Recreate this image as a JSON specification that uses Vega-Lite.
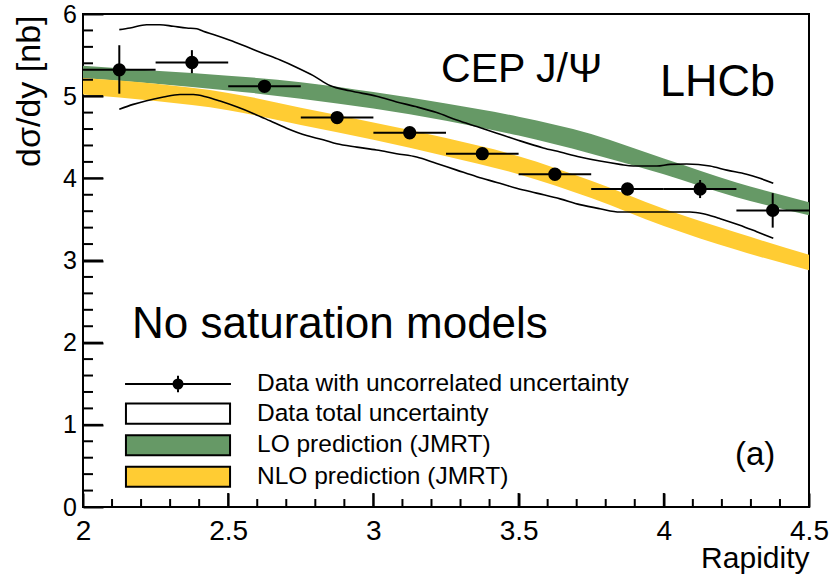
{
  "$schema": "https://vega.github.io/schema/vega-lite/v6.json",
  "width": 726,
  "height": 493,
  "autosize": {"type": "none"},
  "padding": {"left": 83, "top": 14, "right": 24, "bottom": 67},
  "background": "white",
  "config": {"view": {"stroke": "black", "strokeWidth": 2}, "font": "Liberation Sans", "axis": {"zindex": 1}},
  "resolve": {"axis": {"x": "independent", "y": "independent"}},
  "datasets": {
    "pts": [
      {"x": 2.125, "xlo": 2.0, "xhi": 2.25, "y": 5.32, "ylo": 5.03, "yhi": 5.62},
      {"x": 2.375, "xlo": 2.25, "xhi": 2.5, "y": 5.41, "ylo": 5.28, "yhi": 5.56},
      {"x": 2.625, "xlo": 2.5, "xhi": 2.75, "y": 5.12, "ylo": 5.05, "yhi": 5.19},
      {"x": 2.875, "xlo": 2.75, "xhi": 3.0, "y": 4.74, "ylo": 4.68, "yhi": 4.80},
      {"x": 3.125, "xlo": 3.0, "xhi": 3.25, "y": 4.555, "ylo": 4.49, "yhi": 4.62},
      {"x": 3.375, "xlo": 3.25, "xhi": 3.5, "y": 4.30, "ylo": 4.24, "yhi": 4.36},
      {"x": 3.625, "xlo": 3.5, "xhi": 3.75, "y": 4.05, "ylo": 3.99, "yhi": 4.11},
      {"x": 3.875, "xlo": 3.75, "xhi": 4.0, "y": 3.87, "ylo": 3.81, "yhi": 3.93},
      {"x": 4.125, "xlo": 4.0, "xhi": 4.25, "y": 3.87, "ylo": 3.76, "yhi": 3.98},
      {"x": 4.375, "xlo": 4.25, "xhi": 4.5, "y": 3.61, "ylo": 3.40, "yhi": 3.82}
    ],
    "bands": [
      {"x": 2.0, "lo_lo": 5.22, "lo_hi": 5.37, "nlo_lo": 5.02, "nlo_hi": 5.22},
      {"x": 2.25, "lo_lo": 5.15, "lo_hi": 5.31, "nlo_lo": 4.94, "nlo_hi": 5.15},
      {"x": 2.5, "lo_lo": 5.07, "lo_hi": 5.25, "nlo_lo": 4.83, "nlo_hi": 5.04},
      {"x": 2.75, "lo_lo": 4.97, "lo_hi": 5.17, "nlo_lo": 4.65, "nlo_hi": 4.86},
      {"x": 3.0, "lo_lo": 4.85, "lo_hi": 5.05, "nlo_lo": 4.47, "nlo_hi": 4.68},
      {"x": 3.25, "lo_lo": 4.70, "lo_hi": 4.91, "nlo_lo": 4.27, "nlo_hi": 4.49},
      {"x": 3.5, "lo_lo": 4.52, "lo_hi": 4.75, "nlo_lo": 4.05, "nlo_hi": 4.27},
      {"x": 3.75, "lo_lo": 4.30, "lo_hi": 4.54, "nlo_lo": 3.76, "nlo_hi": 3.97},
      {"x": 4.0, "lo_lo": 4.05, "lo_hi": 4.24, "nlo_lo": 3.42, "nlo_hi": 3.63},
      {"x": 4.25, "lo_lo": 3.77, "lo_hi": 3.95, "nlo_lo": 3.13, "nlo_hi": 3.34},
      {"x": 4.5, "lo_lo": 3.55, "lo_hi": 3.71, "nlo_lo": 2.88, "nlo_hi": 3.07}
    ],
    "tot": [
      {"edge": "up", "x": 2.125, "y": 5.81},
      {"edge": "up", "x": 2.162, "y": 5.83},
      {"edge": "up", "x": 2.219, "y": 5.87},
      {"edge": "up", "x": 2.265, "y": 5.87},
      {"edge": "up", "x": 2.311, "y": 5.85},
      {"edge": "up", "x": 2.357, "y": 5.83},
      {"edge": "up", "x": 2.392, "y": 5.82},
      {"edge": "up", "x": 2.414, "y": 5.79},
      {"edge": "up", "x": 2.449, "y": 5.75},
      {"edge": "up", "x": 2.506, "y": 5.68},
      {"edge": "up", "x": 2.564, "y": 5.60},
      {"edge": "up", "x": 2.621, "y": 5.52},
      {"edge": "up", "x": 2.679, "y": 5.44},
      {"edge": "up", "x": 2.736, "y": 5.35},
      {"edge": "up", "x": 2.793, "y": 5.25},
      {"edge": "up", "x": 2.85, "y": 5.13},
      {"edge": "up", "x": 2.919, "y": 5.065},
      {"edge": "up", "x": 3.011, "y": 5.0},
      {"edge": "up", "x": 3.080, "y": 4.93},
      {"edge": "up", "x": 3.149, "y": 4.87},
      {"edge": "up", "x": 3.218, "y": 4.80},
      {"edge": "up", "x": 3.287, "y": 4.71},
      {"edge": "up", "x": 3.356, "y": 4.63},
      {"edge": "up", "x": 3.425, "y": 4.55},
      {"edge": "up", "x": 3.493, "y": 4.47},
      {"edge": "up", "x": 3.585, "y": 4.37},
      {"edge": "up", "x": 3.643, "y": 4.32},
      {"edge": "up", "x": 3.711, "y": 4.26},
      {"edge": "up", "x": 3.780, "y": 4.21},
      {"edge": "up", "x": 3.849, "y": 4.17},
      {"edge": "up", "x": 3.895, "y": 4.15},
      {"edge": "up", "x": 3.976, "y": 4.15},
      {"edge": "up", "x": 4.022, "y": 4.17},
      {"edge": "up", "x": 4.079, "y": 4.175},
      {"edge": "up", "x": 4.159, "y": 4.15},
      {"edge": "up", "x": 4.217, "y": 4.10},
      {"edge": "up", "x": 4.285, "y": 4.05},
      {"edge": "up", "x": 4.331, "y": 4.00},
      {"edge": "up", "x": 4.377, "y": 3.94},
      {"edge": "lo", "x": 2.125, "y": 4.84},
      {"edge": "lo", "x": 2.173, "y": 4.90},
      {"edge": "lo", "x": 2.219, "y": 4.945},
      {"edge": "lo", "x": 2.277, "y": 4.99},
      {"edge": "lo", "x": 2.334, "y": 5.02},
      {"edge": "lo", "x": 2.380, "y": 5.02},
      {"edge": "lo", "x": 2.426, "y": 4.99},
      {"edge": "lo", "x": 2.472, "y": 4.94},
      {"edge": "lo", "x": 2.529, "y": 4.87},
      {"edge": "lo", "x": 2.586, "y": 4.79},
      {"edge": "lo", "x": 2.644, "y": 4.70},
      {"edge": "lo", "x": 2.701, "y": 4.61},
      {"edge": "lo", "x": 2.770, "y": 4.52},
      {"edge": "lo", "x": 2.827, "y": 4.47},
      {"edge": "lo", "x": 2.874, "y": 4.42},
      {"edge": "lo", "x": 2.943, "y": 4.38},
      {"edge": "lo", "x": 3.011, "y": 4.345},
      {"edge": "lo", "x": 3.080, "y": 4.30},
      {"edge": "lo", "x": 3.149, "y": 4.26},
      {"edge": "lo", "x": 3.218, "y": 4.18},
      {"edge": "lo", "x": 3.287, "y": 4.10},
      {"edge": "lo", "x": 3.356, "y": 4.02},
      {"edge": "lo", "x": 3.425, "y": 3.95},
      {"edge": "lo", "x": 3.493, "y": 3.88},
      {"edge": "lo", "x": 3.562, "y": 3.82},
      {"edge": "lo", "x": 3.643, "y": 3.75},
      {"edge": "lo", "x": 3.711, "y": 3.68},
      {"edge": "lo", "x": 3.780, "y": 3.63},
      {"edge": "lo", "x": 3.849, "y": 3.59},
      {"edge": "lo", "x": 3.929, "y": 3.59},
      {"edge": "lo", "x": 4.010, "y": 3.59},
      {"edge": "lo", "x": 4.090, "y": 3.59},
      {"edge": "lo", "x": 4.136, "y": 3.57},
      {"edge": "lo", "x": 4.193, "y": 3.51},
      {"edge": "lo", "x": 4.262, "y": 3.43},
      {"edge": "lo", "x": 4.320, "y": 3.35},
      {"edge": "lo", "x": 4.377, "y": 3.27}
    ],
    "leg": [
      {"key": "Data with uncorrelated uncertainty"},
      {"key": "Data total uncertainty"},
      {"key": "LO prediction (JMRT)"},
      {"key": "NLO prediction (JMRT)"}
    ],
    "xmaj": [{"v": 2.5}, {"v": 3}, {"v": 3.5}, {"v": 4}],
    "xmin": [{"v": 2.1}, {"v": 2.2}, {"v": 2.3}, {"v": 2.4}, {"v": 2.6}, {"v": 2.7}, {"v": 2.8}, {"v": 2.9}, {"v": 3.1}, {"v": 3.2}, {"v": 3.3}, {"v": 3.4}, {"v": 3.6}, {"v": 3.7}, {"v": 3.8}, {"v": 3.9}, {"v": 4.1}, {"v": 4.2}, {"v": 4.3}, {"v": 4.4}],
    "ymaj": [{"v": 1}, {"v": 2}, {"v": 3}, {"v": 4}, {"v": 5}],
    "ymin": [{"v": 0.2}, {"v": 0.4}, {"v": 0.6}, {"v": 0.8}, {"v": 1.2}, {"v": 1.4}, {"v": 1.6}, {"v": 1.8}, {"v": 2.2}, {"v": 2.4}, {"v": 2.6}, {"v": 2.8}, {"v": 3.2}, {"v": 3.4}, {"v": 3.6}, {"v": 3.8}, {"v": 4.2}, {"v": 4.4}, {"v": 4.6}, {"v": 4.8}, {"v": 5.2}, {"v": 5.4}, {"v": 5.6}, {"v": 5.8}]
  },
  "layer": [
    {
      "data": {"name": "bands"},
      "mark": {"type": "area", "interpolate": "monotone", "color": "#669966", "opacity": 1},
      "encoding": {
        "x": {
          "field": "x", "type": "quantitative",
          "scale": {"domain": [2, 4.5], "nice": false, "zero": false},
          "axis": {
            "orient": "bottom", "offset": -14, "ticks": true, "tickSize": 14, "domain": false, "zindex": 1,
            "values": [2, 2.5, 3, 3.5, 4, 4.5], "format": "~g",
            "labelFont": "Liberation Sans", "labelFontSize": 28, "labelColor": "black",
            "labelPadding": 10, "labelFlush": false, "labelOverlap": false, "labelBound": false,
            "tickWidth": 2, "tickColor": "black", "tickOpacity": 1, "grid": false,
            "title": "Rapidity", "titleFont": "Liberation Sans", "titleFontSize": 30, "titleFontWeight": "normal", "titleColor": "black",
            "titleAlign": "right", "titleX": 726, "titleY": 74, "titleBaseline": "alphabetic", "titleAngle": 0
          }
        },
        "y": {
          "field": "lo_lo", "type": "quantitative",
          "scale": {"domain": [0, 6], "nice": false, "zero": false},
          "axis": {
            "orient": "left", "offset": -20, "ticks": true, "tickSize": 20, "domain": false, "zindex": 1,
            "values": [0, 1, 2, 3, 4, 5, 6], "format": "~g",
            "labelFont": "Liberation Sans", "labelFontSize": 25, "labelColor": "black",
            "labelPadding": 6.5, "labelFlush": false, "labelOverlap": false, "labelBound": false,
            "tickWidth": 2, "tickColor": "black", "tickOpacity": 1, "grid": false,
            "title": "dσ/dy [nb]", "titleFont": "Liberation Sans", "titleFontSize": 34, "titleFontWeight": "normal", "titleColor": "black",
            "titleAngle": 270, "titleAlign": "right", "titleBaseline": "middle", "titleX": -74, "titleY": 1
          }
        },
        "y2": {"field": "lo_hi"}
      }
    },
    {
      "data": {"name": "bands"},
      "mark": {"type": "area", "interpolate": "monotone", "color": "#ffcc33", "opacity": 1},
      "encoding": {
        "x": {"field": "x", "type": "quantitative", "axis": null},
        "y": {"field": "nlo_lo", "type": "quantitative", "axis": null},
        "y2": {"field": "nlo_hi"}
      }
    },
    {
      "data": {"name": "xmaj"},
      "mark": {"type": "rule", "color": "black", "strokeWidth": 2},
      "encoding": {
        "x": {"field": "v", "type": "quantitative", "axis": null},
        "y": {"datum": 0, "type": "quantitative", "axis": null},
        "y2": {"datum": 0.17}
      }
    },
    {
      "data": {"name": "xmin"},
      "mark": {"type": "rule", "color": "black", "strokeWidth": 2},
      "encoding": {
        "x": {"field": "v", "type": "quantitative", "axis": null},
        "y": {"datum": 0, "type": "quantitative", "axis": null},
        "y2": {"datum": 0.097}
      }
    },
    {
      "data": {"name": "ymaj"},
      "mark": {"type": "rule", "color": "black", "strokeWidth": 2},
      "encoding": {
        "y": {"field": "v", "type": "quantitative", "axis": null},
        "x": {"datum": 2, "type": "quantitative", "axis": null},
        "x2": {"datum": 2.069}
      }
    },
    {
      "data": {"name": "ymin"},
      "mark": {"type": "rule", "color": "black", "strokeWidth": 2},
      "encoding": {
        "y": {"field": "v", "type": "quantitative", "axis": null},
        "x": {"datum": 2, "type": "quantitative", "axis": null},
        "x2": {"datum": 2.0344}
      }
    },
    {
      "data": {"name": "tot"},
      "mark": {"type": "line", "interpolate": "monotone", "color": "black", "strokeWidth": 1.6},
      "encoding": {
        "x": {"field": "x", "type": "quantitative", "axis": null},
        "y": {"field": "y", "type": "quantitative", "axis": null},
        "detail": {"field": "edge", "type": "nominal"}
      }
    },
    {
      "data": {"name": "pts"},
      "mark": {"type": "rule", "color": "black", "strokeWidth": 2},
      "encoding": {
        "x": {"field": "x", "type": "quantitative", "axis": null},
        "y": {"field": "ylo", "type": "quantitative", "axis": null},
        "y2": {"field": "yhi"}
      }
    },
    {
      "data": {"name": "pts"},
      "mark": {"type": "rule", "color": "black", "strokeWidth": 2},
      "encoding": {
        "x": {"field": "xlo", "type": "quantitative", "axis": null},
        "x2": {"field": "xhi"},
        "y": {"field": "y", "type": "quantitative", "axis": null}
      }
    },
    {
      "data": {"name": "pts"},
      "mark": {"type": "circle", "color": "black", "opacity": 1, "size": 177},
      "encoding": {
        "x": {"field": "x", "type": "quantitative", "axis": null},
        "y": {"field": "y", "type": "quantitative", "axis": null}
      }
    },
    {
      "data": {"name": "leg"},
      "transform": [{"filter": "false"}],
      "mark": {"type": "point", "filled": true, "opacity": 1, "strokeWidth": 2},
      "encoding": {
        "fill": {
          "field": "key", "type": "nominal",
          "scale": {
            "domain": ["Data with uncorrelated uncertainty", "Data total uncertainty", "LO prediction (JMRT)", "NLO prediction (JMRT)"],
            "range": ["black", "white", "#669966", "#ffcc33"]
          },
          "legend": {
            "orient": "none", "legendX": 79, "legendY": 354, "title": null, "padding": 0,
            "symbolSize": 900, "symbolStrokeWidth": 2, "symbolOpacity": 1,
            "labelFont": "Liberation Sans", "labelFontSize": 24.5, "labelColor": "black", "labelOffset": 63,
            "labelLimit": 0, "rowPadding": 0.6, "labelBaseline": "middle"
          }
        },
        "stroke": {
          "field": "key", "type": "nominal",
          "scale": {
            "domain": ["Data with uncorrelated uncertainty", "Data total uncertainty", "LO prediction (JMRT)", "NLO prediction (JMRT)"],
            "range": ["black", "black", "black", "black"]
          },
          "legend": {
            "orient": "none", "legendX": 79, "legendY": 354, "title": null, "padding": 0,
            "symbolSize": 900, "symbolStrokeWidth": 2, "symbolOpacity": 1,
            "labelFont": "Liberation Sans", "labelFontSize": 24.5, "labelColor": "black", "labelOffset": 63,
            "labelLimit": 0, "rowPadding": 0.6, "labelBaseline": "middle"
          }
        },
        "shape": {
          "field": "key", "type": "nominal",
          "scale": {
            "domain": ["Data with uncorrelated uncertainty", "Data total uncertainty", "LO prediction (JMRT)", "NLO prediction (JMRT)"],
            "range": [
              "M-3.53,0H3.53M0,-0.55V0.55M-0.3,0A0.3,0.3 0 1,1 0.3,0A0.3,0.3 0 1,1 -0.3,0Z",
              "M-3.47,-0.67H3.47V0.67H-3.47Z",
              "M-3.47,-0.67H3.47V0.67H-3.47Z",
              "M-3.47,-0.67H3.47V0.67H-3.47Z"
            ]
          },
          "legend": {
            "orient": "none", "legendX": 79, "legendY": 354, "title": null, "padding": 0,
            "symbolSize": 900, "symbolStrokeWidth": 2, "symbolOpacity": 1,
            "labelFont": "Liberation Sans", "labelFontSize": 24.5, "labelColor": "black", "labelOffset": 63,
            "labelLimit": 0, "rowPadding": 0.6, "labelBaseline": "middle"
          }
        }
      }
    },
    {
      "data": {"values": [{}]},
      "mark": {"type": "text", "text": "CEP J/Ψ", "font": "Liberation Sans", "fontSize": 41, "align": "left", "baseline": "alphabetic", "color": "black"},
      "encoding": {"x": {"datum": 3.233, "type": "quantitative", "axis": null}, "y": {"datum": 5.17, "type": "quantitative", "axis": null}}
    },
    {
      "data": {"values": [{}]},
      "mark": {"type": "text", "text": "LHCb", "font": "Liberation Sans", "fontSize": 45, "align": "left", "baseline": "alphabetic", "color": "black"},
      "encoding": {"x": {"datum": 3.987, "type": "quantitative", "axis": null}, "y": {"datum": 5.0, "type": "quantitative", "axis": null}}
    },
    {
      "data": {"values": [{}]},
      "mark": {"type": "text", "text": "No saturation models", "font": "Liberation Sans", "fontSize": 44, "align": "left", "baseline": "alphabetic", "color": "black"},
      "encoding": {"x": {"datum": 2.169, "type": "quantitative", "axis": null}, "y": {"datum": 2.053, "type": "quantitative", "axis": null}}
    },
    {
      "data": {"values": [{}]},
      "mark": {"type": "text", "text": "(a)", "font": "Liberation Sans", "fontSize": 33, "align": "left", "baseline": "alphabetic", "color": "black"},
      "encoding": {"x": {"datum": 4.245, "type": "quantitative", "axis": null}, "y": {"datum": 0.511, "type": "quantitative", "axis": null}}
    }
  ]
}
